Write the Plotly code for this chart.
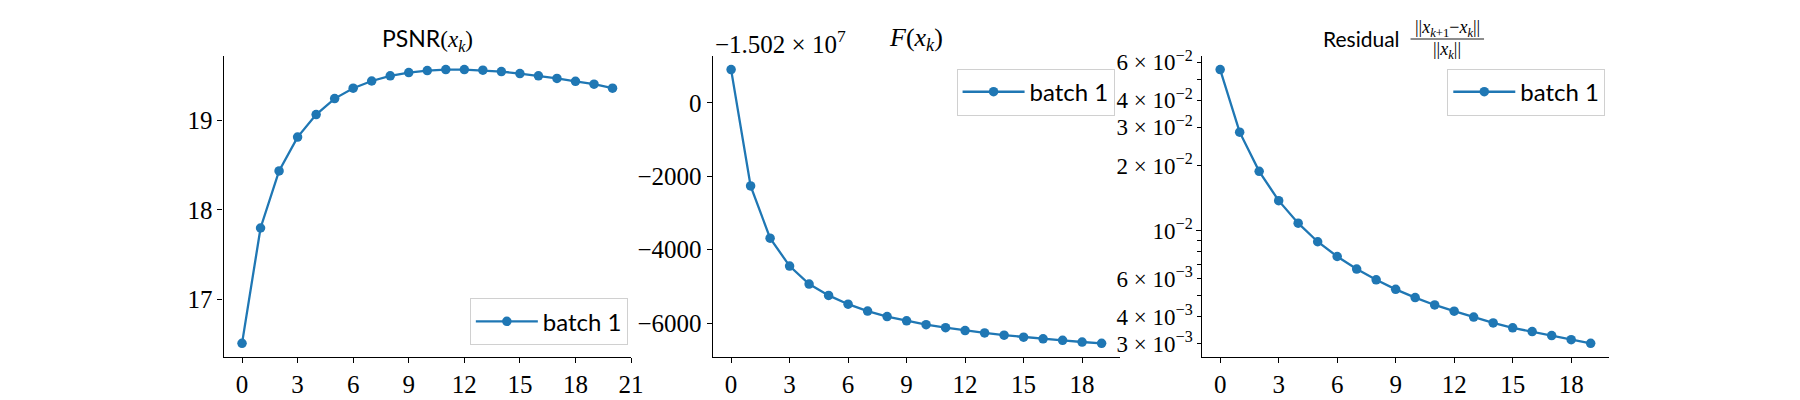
import numpy as np
import plotly.graph_objects as go

# ---------------- data ----------------
iters_psnr = list(range(21))
psnr = [16.513, 17.798, 18.434, 18.811, 19.062, 19.240, 19.356, 19.436, 19.494, 19.530,
        19.552, 19.563, 19.563, 19.556, 19.541, 19.519, 19.494, 19.465, 19.432, 19.400, 19.356]

iters_f = list(range(20))
f_offset_text = "−1.502 × 10<sup>7</sup>"
f_rel = [905, -2264, -3686, -4447, -4937, -5246, -5486, -5672, -5824, -5939,
         -6045, -6125, -6205, -6268, -6330, -6383, -6428, -6471, -6516, -6551]

iters_res = list(range(20))
residual = [0.05541, 0.02849, 0.01879, 0.01376, 0.01083, 0.00889, 0.00760, 0.00665, 0.00593, 0.00536,
            0.00491, 0.00454, 0.00425, 0.00399, 0.00375, 0.00356, 0.00342, 0.00328, 0.00314, 0.00302]

res_tick_vals = [0.06, 0.04, 0.03, 0.02, 0.01, 0.006, 0.004, 0.003, 0.05, 0.009, 0.008, 0.007, 0.005]
res_tick_text = ["6 × 10<sup>−2</sup>", "4 × 10<sup>−2</sup>", "3 × 10<sup>−2</sup>", "2 × 10<sup>−2</sup>",
                 "10<sup>−2</sup>", "6 × 10<sup>−3</sup>", "4 × 10<sup>−3</sup>", "3 × 10<sup>−3</sup>",
                 "", "", "", "", ""]

series_name = "batch 1"

# ---------------- style ----------------
W, H = 1800, 400
BLUE = "#1f77b4"
SERIF = "Liberation Serif"
SANS = "Lato"
TICK_FONT = dict(family=SERIF, size=25, color="black")

left, right, wspace = 0.125, 0.9, 0.2
pw = (right - left) / (3 + 2 * wspace)
doms = [[left + i * pw * (1 + wspace), left + i * pw * (1 + wspace) + pw] for i in range(3)]
ydom = [0.11, 0.88]


def lin_range(v, m=0.05):
    lo, hi = min(v), max(v)
    d = (hi - lo) * m
    return [lo - d, hi + d]


def log_range(v, m=0.05):
    lv = np.log10(v)
    lo, hi = lv.min(), lv.max()
    d = (hi - lo) * m
    return [float(lo - d), float(hi + d)]


def px2x(p):
    return p / W


def px2y(p):
    return 1 - p / H


fig = go.Figure()
trace_style = dict(mode="lines+markers", line=dict(color=BLUE, width=2.3),
                   marker=dict(color=BLUE, size=9.5), name=series_name)
fig.add_trace(go.Scatter(x=iters_psnr, y=psnr, xaxis="x", yaxis="y", legend="legend", **trace_style))
fig.add_trace(go.Scatter(x=iters_f, y=f_rel, xaxis="x2", yaxis="y2", legend="legend2", **trace_style))
fig.add_trace(go.Scatter(x=iters_res, y=residual, xaxis="x3", yaxis="y3", legend="legend3", **trace_style))

axis_common = dict(showgrid=False, zeroline=False, showline=True, linecolor="black", linewidth=1.1,
                   ticks="outside", tickcolor="black", tickwidth=1.1, ticklen=5, tickfont=TICK_FONT)

fig.update_layout(
    width=W, height=H, margin=dict(l=0, r=0, t=0, b=0),
    paper_bgcolor="white", plot_bgcolor="white",
    xaxis=dict(domain=doms[0], anchor="y", range=lin_range(iters_psnr), dtick=3, tick0=0, **axis_common),
    yaxis=dict(domain=ydom, anchor="x", range=lin_range(psnr), dtick=1, tick0=0, **axis_common),
    xaxis2=dict(domain=doms[1], anchor="y2", range=lin_range(iters_f), dtick=3, tick0=0, **axis_common),
    yaxis2=dict(domain=ydom, anchor="x2", range=lin_range(f_rel), dtick=2000, tick0=0, **axis_common),
    xaxis3=dict(domain=doms[2], anchor="y3", range=lin_range(iters_res), dtick=3, tick0=0, **axis_common),
    yaxis3=dict(domain=ydom, anchor="x3", type="log", range=log_range(residual),
                tickmode="array", tickvals=res_tick_vals, ticktext=res_tick_text,
                minor=dict(tickmode="array", tickvals=[0.01], ticklen=5, tickcolor="black",
                           tickwidth=1.1, ticks="outside", showgrid=False),
                **{**axis_common, "ticklen": 3.3,
                   "tickfont": dict(family=SERIF, size=23, color="black")}),
    showlegend=True,
)

leg_common = dict(font=dict(family=SANS, size=24, color="black"), bgcolor="rgba(255,255,255,0.8)",
                  bordercolor="#d0d0d0", borderwidth=1, itemwidth=62, tracegroupgap=0)
fig.update_layout(
    legend=dict(x=px2x(473), y=px2y(344), xanchor="left", yanchor="bottom", **leg_common),
    legend2=dict(x=px2x(963), y=px2y(61), xanchor="left", yanchor="top", **leg_common),
    legend3=dict(x=px2x(1457), y=px2y(61), xanchor="left", yanchor="top", **leg_common),
)

# titles
c = [(d[0] + d[1]) / 2 for d in doms]
anns = [
    dict(x=c[0], y=px2y(31), text=f"PSNR<span style='font-family:{SERIF}'>(<i>x</i><sub><i>k</i></sub>)</span>",
         font=dict(family=SANS, size=23, color="black")),
    dict(x=c[1], y=px2y(31), text="<i>F</i>(<i>x</i><sub><i>k</i></sub>)",
         font=dict(family=SERIF, size=26, color="black")),
    dict(x=doms[1][0], y=px2y(34), xanchor="left", text=f_offset_text,
         font=dict(family=SERIF, size=25, color="black")),
    dict(x=px2x(1411), y=px2y(30), xanchor="right", text="Residual",
         font=dict(family=SANS, size=21, color="black")),
    dict(x=px2x(1457), y=px2y(20), text="||<i>x</i><sub><i>k</i>+1</sub>−<i>x</i><sub><i>k</i></sub>||",
         font=dict(family=SERIF, size=18, color="black")),
    dict(x=px2x(1457), y=px2y(42), text="||<i>x</i><sub><i>k</i></sub>||",
         font=dict(family=SERIF, size=18, color="black")),
]
for a in anns:
    a.setdefault("xanchor", "center")
    fig.add_annotation(xref="paper", yref="paper", yanchor="middle", showarrow=False, **a)

fig.add_shape(type="line", xref="paper", yref="paper", x0=px2x(1420), x1=px2x(1494),
              y0=px2y(30.7), y1=px2y(30.7), line=dict(color="black", width=0.9))

fig.write_html("out.html")
